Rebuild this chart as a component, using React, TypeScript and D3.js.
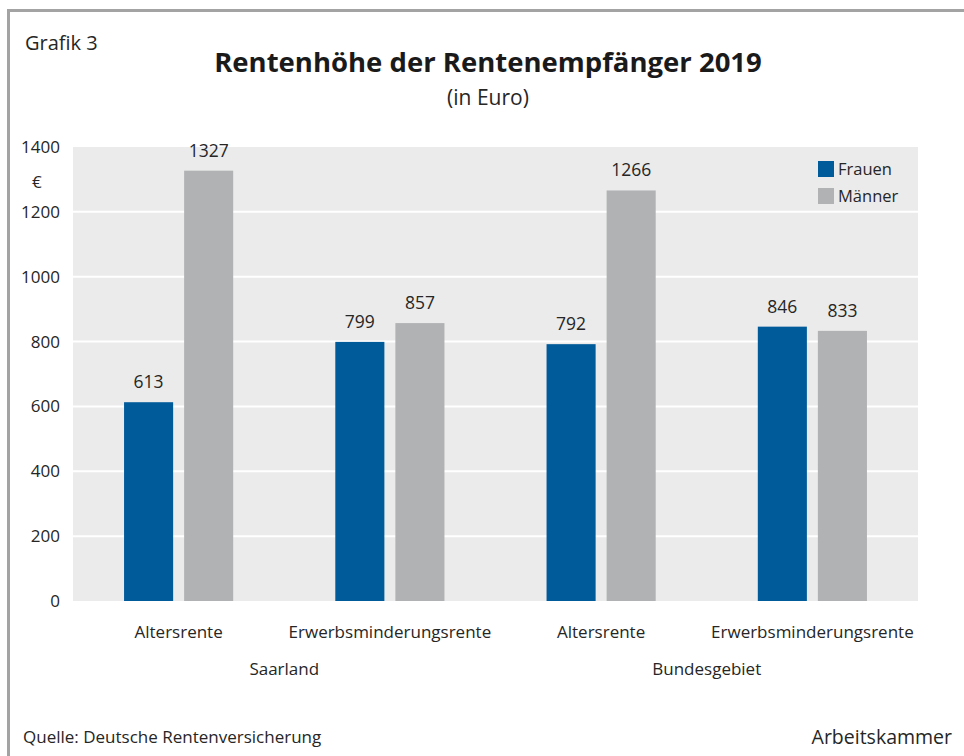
import React, { useRef, useEffect } from "react";
import * as d3 from "d3";

const regions = ["Saarland", "Bundesgebiet"];
const categories = ["Altersrente", "Erwerbsminderungsrente"];
const seriesNames = ["Frauen", "Männer"];
const frauen = [613, 799, 792, 846];
const maenner = [1327, 857, 1266, 833];
const yTicks = [0, 200, 400, 600, 800, 1000, 1200, 1400];

const colors: Record<string, string> = { Frauen: "#005b9a", Männer: "#b1b2b4" };
const FONT = "'Open Sans', 'Noto Sans', sans-serif";
const TXT = "#262626";

export default function App() {
  const svgRef = useRef<SVGSVGElement>(null);

  useEffect(() => {
    if (!svgRef.current) return;
    const svg = d3.select(svgRef.current);
    svg.selectAll("*").remove();

    const width = 964;
    const height = 756;
    const margin = { top: 147, right: 46, bottom: 155, left: 73 };
    const chartWidth = width - margin.left - margin.right;
    const chartHeight = height - margin.top - margin.bottom;

    svg.attr("width", width).attr("height", height).style("font-family", FONT);

    svg.append("rect").attr("width", width).attr("height", height).attr("fill", "#fff");

    // outer frame
    svg
      .append("rect")
      .attr("x", 8.5)
      .attr("y", 10.5)
      .attr("width", width + 20)
      .attr("height", height + 20)
      .attr("fill", "none")
      .attr("stroke", "#a3a3a3")
      .attr("stroke-width", 3);

    // build groups
    const groups = regions.flatMap((r) => categories.map((c) => `${r}|${c}`));
    const data = groups.map((g, i) => ({
      key: g,
      values: [
        { name: "Frauen", value: frauen[i] },
        { name: "Männer", value: maenner[i] },
      ],
    }));

    const chart = svg.append("g").attr("transform", `translate(${margin.left},${margin.top})`);

    const x0 = d3.scaleBand().domain(groups).range([0, chartWidth]).padding(0);
    const x1 = d3
      .scaleBand()
      .domain(seriesNames)
      .range([0, x0.bandwidth()])
      .paddingInner(0.183)
      .paddingOuter(0.85);
    const y = d3.scaleLinear().domain([0, 1400]).range([chartHeight, 0]);

    chart
      .append("rect")
      .attr("width", chartWidth)
      .attr("height", chartHeight)
      .attr("fill", "#ebebeb");

    // gridlines
    chart
      .selectAll(".grid")
      .data(yTicks.filter((t) => t > 0 && t < 1400))
      .enter()
      .append("line")
      .attr("x1", 0)
      .attr("x2", chartWidth)
      .attr("y1", (d) => y(d))
      .attr("y2", (d) => y(d))
      .attr("stroke", "#fff")
      .attr("stroke-width", 2);

    // y-axis labels
    chart
      .selectAll(".ytick")
      .data(yTicks)
      .enter()
      .append("text")
      .attr("x", -13)
      .attr("y", (d) => y(d))
      .attr("dy", "0.35em")
      .attr("text-anchor", "end")
      .attr("font-size", 17)
      .attr("fill", TXT)
      .text((d) => d);

    chart
      .append("text")
      .attr("x", -41)
      .attr("y", y(1300) + 3)
      .attr("dy", "0.35em")
      .attr("font-size", 17)
      .attr("fill", TXT)
      .text("€");

    const g = chart
      .selectAll(".group")
      .data(data)
      .enter()
      .append("g")
      .attr("transform", (d) => `translate(${x0(d.key)},0)`);

    g.selectAll("rect")
      .data((d) => d.values)
      .enter()
      .append("rect")
      .attr("x", (d) => x1(d.name) || 0)
      .attr("y", (d) => y(d.value))
      .attr("width", x1.bandwidth())
      .attr("height", (d) => chartHeight - y(d.value))
      .attr("fill", (d) => colors[d.name]);

    g.selectAll(".val")
      .data((d) => d.values)
      .enter()
      .append("text")
      .attr("x", (d) => (x1(d.name) || 0) + x1.bandwidth() / 2)
      .attr("y", (d) => y(d.value) - 14)
      .attr("text-anchor", "middle")
      .attr("font-size", 17.5)
      .attr("fill", TXT)
      .text((d) => d.value);

    // category labels
    chart
      .selectAll(".cat")
      .data(groups)
      .enter()
      .append("text")
      .attr("x", (d) => (x0(d) || 0) + x0.bandwidth() / 2)
      .attr("y", chartHeight + 37)
      .attr("text-anchor", "middle")
      .attr("font-size", 17)
      .attr("fill", TXT)
      .text((d) => d.split("|")[1]);

    // region labels
    chart
      .selectAll(".region")
      .data(regions)
      .enter()
      .append("text")
      .attr("x", (r) => {
        const keys = groups.filter((k) => k.startsWith(r + "|"));
        const a = x0(keys[0]) || 0;
        const b = (x0(keys[keys.length - 1]) || 0) + x0.bandwidth();
        return (a + b) / 2;
      })
      .attr("y", chartHeight + 74)
      .attr("text-anchor", "middle")
      .attr("font-size", 17)
      .attr("fill", TXT)
      .text((d) => d);

    // legend
    const legend = chart
      .append("g")
      .attr("transform", `translate(${chartWidth - 100},14)`);
    seriesNames.forEach((s, i) => {
      const row = legend.append("g").attr("transform", `translate(0,${i * 27})`);
      row.append("rect").attr("width", 16).attr("height", 16).attr("fill", colors[s]);
      row
        .append("text")
        .attr("x", 20)
        .attr("y", 8)
        .attr("dy", "0.35em")
        .attr("font-size", 16.5)
        .attr("fill", TXT)
        .text(s);
    });

    // titles
    svg
      .append("text")
      .attr("x", 25)
      .attr("y", 50)
      .attr("font-size", 20)
      .attr("fill", TXT)
      .text("Grafik 3");

    svg
      .append("text")
      .attr("x", 488)
      .attr("y", 72)
      .attr("text-anchor", "middle")
      .attr("font-size", 27.5)
      .attr("font-weight", "bold")
      .attr("fill", "#1a1a1a")
      .text("Rentenhöhe der Rentenempfänger 2019");

    svg
      .append("text")
      .attr("x", 488)
      .attr("y", 105)
      .attr("text-anchor", "middle")
      .attr("font-size", 21)
      .attr("fill", TXT)
      .text("(in Euro)");

    svg
      .append("text")
      .attr("x", 23)
      .attr("y", 743)
      .attr("font-size", 17)
      .attr("fill", TXT)
      .text("Quelle: Deutsche Rentenversicherung");

    svg
      .append("text")
      .attr("x", 952)
      .attr("y", 744)
      .attr("text-anchor", "end")
      .attr("font-size", 19.5)
      .attr("fill", TXT)
      .text("Arbeitskammer");
  }, []);

  return (
    <div style={{ position: "absolute", left: 0, top: 0 }}>
      <svg ref={svgRef} style={{ display: "block" }}></svg>
    </div>
  );
}
